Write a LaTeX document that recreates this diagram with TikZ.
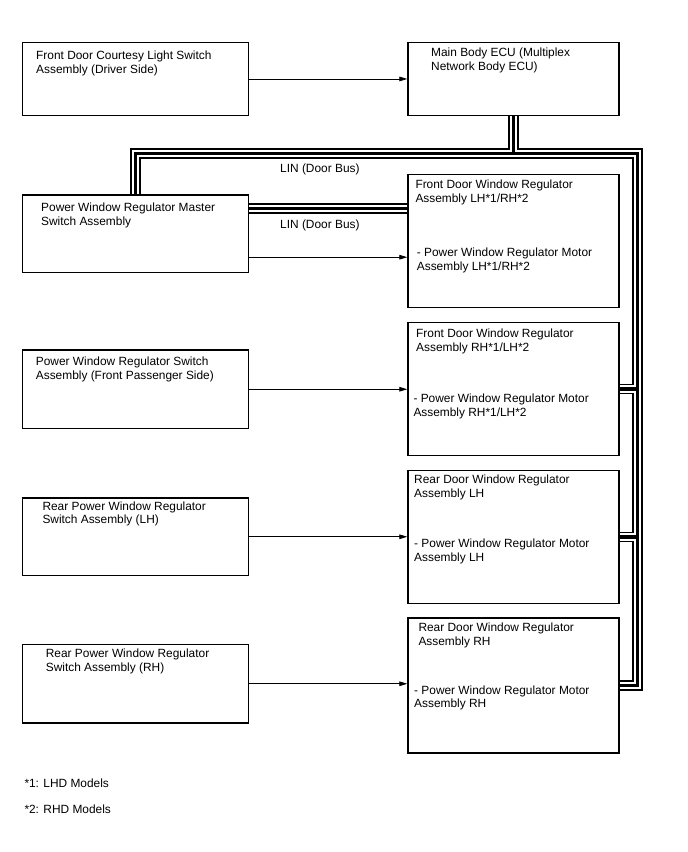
\documentclass[tikz,border=0pt]{standalone}
\usepackage{fontspec}
\setmainfont{Liberation Sans}
\usetikzlibrary{arrows.meta}

\tikzset{
	unit/.style={draw, line width=1.2pt, inner sep=0pt, anchor=north west},
	lbox/.style={unit, minimum width=226.3pt},
	rbox/.style={unit, minimum width=211pt},
	txt/.style={inner sep=0pt, anchor=base west, align=left, font=\fontsize{11.9}{13.8}\selectfont},
	arr/.style={line width=0.8pt, -{Triangle[length=8pt,width=4.6pt]}}
}

\begin{document}
\begin{tikzpicture}[x=1pt,y=-1pt]
			\useasboundingbox (0,0) rectangle (688,852);
			% boxes on the left
			\node[lbox, minimum height=73.3pt] (fcl) at (21.7,41.7) {};
			\node[lbox, minimum height=77.7pt] (master) at (21.7,194.3) {};
			\node[lbox, minimum height=78.7pt] (psw) at (21.7,349.3) {};
			\node[lbox, minimum height=77.7pt] (rlsw) at (21.7,497.3) {};
			\node[lbox, minimum height=78.3pt] (rrsw) at (21.7,644) {};
			% boxes on the right
			\node[rbox, minimum height=73.3pt] (ecu) at (407.3,41.7) {};
			\node[rbox, minimum height=132.7pt] (fdl) at (407.3,174) {};
			\node[rbox, minimum height=133.3pt] (fdr) at (407.3,321.7) {};
			\node[rbox, minimum height=132.7pt] (rl) at (407.3,470) {};
			\node[rbox, minimum height=135pt] (rr) at (407.3,617.3) {};
			% texts (base = last line)
			\node[txt] (fcltxt) at (36,73.1) {Front Door Courtesy Light Switch\\Assembly (Driver Side)};
			\node[txt] (ecutxt) at (431,70.3) {Main Body ECU (Multiplex\\Network Body ECU)};
			\node[txt] (mastertxt) at (41,225.5) {Power Window Regulator Master\\Switch Assembly};
			\node[txt] (fdltxt) at (415.3,202.1) {Front Door Window Regulator\\Assembly LH*1/RH*2};
			\node[txt] (fdlmot) at (416.7,270.5) {- Power Window Regulator Motor\\Assembly LH*1/RH*2};
			\node[txt] (pswtxt) at (35.7,379.5) {Power Window Regulator Switch\\Assembly (Front Passenger Side)};
			\node[txt] (fdrtxt) at (416,351.1) {Front Door Window Regulator\\Assembly RH*1/LH*2};
			\node[txt] (fdrmot) at (413.3,416.5) {- Power Window Regulator Motor\\Assembly RH*1/LH*2};
			\node[txt] (rlswtxt) at (42.3,523.8) {Rear Power Window Regulator\\Switch Assembly (LH)};
			\node[txt] (rltxt) at (414,497.1) {Rear Door Window Regulator\\Assembly LH};
			\node[txt] (rlmot) at (414,561.1) {- Power Window Regulator Motor\\Assembly LH};
			\node[txt] (rrswtxt) at (45.7,671.1) {Rear Power Window Regulator\\Switch Assembly (RH)};
			\node[txt] (rrtxt) at (418.3,645.5) {Rear Door Window Regulator\\Assembly RH};
			\node[txt] (rrmot) at (414,707.8) {- Power Window Regulator Motor\\Assembly RH};
			\node[txt] (lin1lbl) at (280,172.3) {LIN (Door Bus)};
			\node[txt] (lin2lbl) at (280,228.3) {LIN (Door Bus)};
			\node[txt] (note1) at (24.3,787.3) {*1: LHD Models};
			\node[txt] (note2) at (24.3,813.3) {*2: RHD Models};
			% bus lines, drawn three times
			\coordinate (rtop) at (637.5,153.3);
			\coordinate (lin) at ([yshift=-14pt]master.north east);
			\foreach \w/\c in {10.5pt/black, 7.4pt/white, 3.2pt/black}{
				\draw[line width=\w, color=\c] (ecu.south) -- (ecu.south |- rtop);
				\draw[line width=\w, color=\c] (master.north) |- (rtop) -- (rtop |- rr.east) -- (rr.east);
				\draw[line width=\w, color=\c] (fdr.east) -- (fdr.east -| rtop);
				\draw[line width=\w, color=\c] (rl.east) -- (rl.east -| rtop);
				\draw[line width=\w, color=\c] (lin) -- (lin -| fdl.west);
			}
			% signal lines
			\draw[arr] (fcl.east) -- (ecu.west);
			\draw[arr] ([yshift=16pt]master.south east) -- ([yshift=16pt]master.south east -| fdl.west);
			\draw[arr] (psw.east) -- (psw.east -| fdr.west);
			\draw[arr] (rlsw.east) -- (rlsw.east -| rl.west);
			\draw[arr] (rrsw.east) -- (rrsw.east -| rr.west);
\end{tikzpicture}
\end{document}
